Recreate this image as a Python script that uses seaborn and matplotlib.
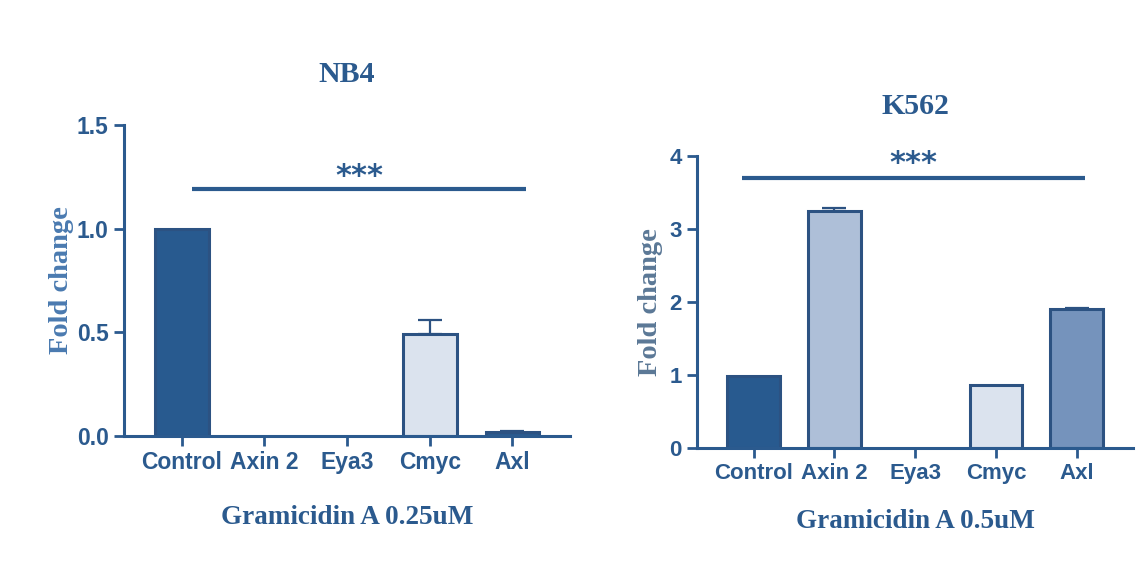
import numpy as np
import pandas as pd
import matplotlib
matplotlib.use("Agg")
import matplotlib.pyplot as plt
import seaborn as sns

# data
genes = ["Control", "Axin 2", "Eya3", "Cmyc", "Axl"]
nb4_mean = [1.0, 0.0, 0.0, 0.49, 0.02]
nb4_err = [0.0, 0.0, 0.0, 0.07, 0.004]
k562_mean = [0.99, 3.25, 0.0, 0.86, 1.90]
k562_err = [0.0, 0.03, 0.0, 0.0, 0.02]

nb4_colors = ["#285a8f", "#aebfd8", "#ffffff", "#dbe3ee", "#285a8f"]
k562_colors = ["#285a8f", "#aebfd8", "#ffffff", "#dbe3ee", "#7593bc"]

blue = "#2b5a8e"
edge = "#2c5282"

sns.set_style("white")
plt.rcParams["font.family"] = ["Liberation Sans", "DejaVu Sans"]

fig = plt.figure(figsize=(11.36, 5.67), dpi=100)
ax1 = fig.add_axes([0.109, 0.231, 0.393, 0.549])
ax2 = fig.add_axes([0.6136, 0.210, 0.384, 0.515])


def draw(ax, mean, err, colors, ylim, yticks, yfmt, title, xlabel, sig_y, sig_x, star_y,
         title_y, xlab_y, ylab_x, ylab_color, tick_fs):
    df = pd.DataFrame({"gene": genes, "value": mean})
    sns.barplot(data=df, x="gene", y="value", hue="gene", palette=colors,
                width=0.65, errorbar=None, legend=False, ax=ax, saturation=1,
                edgecolor=edge, linewidth=2.2)
    # hide outlines of empty bars
    for p in ax.patches:
        if p.get_height() == 0:
            p.set_linewidth(0)
    # upper-only error bars where there is an error
    x = np.arange(len(genes))
    m = np.array(mean)
    e = np.array(err)
    keep = e > 0
    ax.errorbar(x[keep], m[keep], yerr=[np.zeros(keep.sum()), e[keep]],
                fmt="none", ecolor=edge, elinewidth=1.6, capsize=8.5, capthick=1.6)
    ax.set_xlim(-0.7, 4.7)
    ax.set_ylim(*ylim)
    ax.set_yticks(yticks)
    ax.set_yticklabels([yfmt.format(t) for t in yticks])
    for s in ["top", "right"]:
        ax.spines[s].set_visible(False)
    for s in ["left", "bottom"]:
        ax.spines[s].set_color(blue)
        ax.spines[s].set_linewidth(2.2)
    ax.tick_params(axis="both", colors=blue, width=2, length=7, labelsize=tick_fs,
                   bottom=True, left=True, pad=4)
    for lab in ax.get_xticklabels() + ax.get_yticklabels():
        lab.set_fontweight("bold")
        lab.set_color(blue)
    ax.set_xlabel(xlabel, fontsize=19.5, fontweight="bold", family="Liberation Serif", color=blue)
    ax.xaxis.set_label_coords(0.5, xlab_y)
    ax.set_ylabel("Fold change", fontsize=20.5, fontweight="bold", family="Liberation Serif",
                  color=ylab_color)
    ax.yaxis.set_label_coords(ylab_x, 0.5)
    ax.text(0.5, title_y, title, transform=ax.transAxes, ha="center", va="center",
            fontsize=21.5, fontweight="bold", family="Liberation Serif", color=blue)
    # significance bar
    ax.plot(sig_x, [sig_y, sig_y], color=blue, lw=3, solid_capstyle="butt", clip_on=False)
    ax.text(np.mean(sig_x), star_y, "***", ha="center", va="center", fontsize=22,
            fontweight="bold", family="DejaVu Sans", color=blue, clip_on=False)


draw(ax1, nb4_mean, nb4_err, nb4_colors, (0, 1.5), [0, 0.5, 1.0, 1.5], "{:.1f}",
     "NB4", "Gramicidin A 0.25uM", 1.19, [0.12, 4.17], 1.25,
     1.16, -0.22, -0.112, "#4a7ab0", 16.5)
draw(ax2, k562_mean, k562_err, k562_colors, (0, 4), [0, 1, 2, 3, 4], "{:d}",
     "K562", "Gramicidin A 0.5uM", 3.70, [-0.14, 4.10], 3.89,
     1.168, -0.21, -0.078, "#5b7896", 16)

plt.savefig("out.png", dpi=100)
